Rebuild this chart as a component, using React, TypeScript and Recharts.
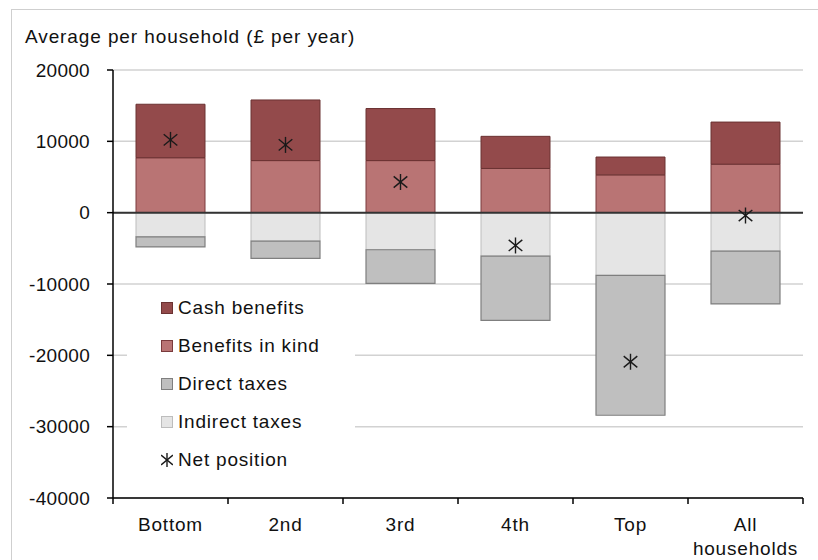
import React from 'react';
import { ComposedChart, Bar, Line, XAxis, YAxis, CartesianGrid, ReferenceLine, Legend } from 'recharts';

// Average per household, £ per year, by income quintile
const categories = ['Bottom', '2nd', '3rd', '4th', 'Top', 'All households'];
const cashBenefits = [7500, 8500, 7300, 4500, 2500, 5900];
const benefitsInKind = [7700, 7300, 7300, 6200, 5300, 6800];
const indirectTaxes = [-3400, -4000, -5200, -6100, -8800, -5400];
const directTaxes = [-1400, -2400, -4700, -9000, -19600, -7400];
const netPosition = [10200, 9500, 4300, -4600, -20900, -400];
const yTicks = [-40000, -30000, -20000, -10000, 0, 10000, 20000];

const data = categories.map((name, i) => ({
  name,
  kind: benefitsInKind[i],
  cash: cashBenefits[i],
  indirect: indirectTaxes[i],
  direct: directTaxes[i],
  net: netPosition[i],
}));

const W = 818;
const H = 560;
const MARGIN = { top: 70, right: 15, bottom: 12, left: 0 };
const Y_AXIS_W = 113;
const BAND = (W - MARGIN.left - MARGIN.right - Y_AXIS_W) / categories.length;

const FONT = '"Liberation Sans", Arial, sans-serif';
const TEXT = '#111';

const COLORS = {
  cash: { fill: '#934a4b', stroke: '#6b3232' },
  kind: { fill: '#b97474', stroke: '#7a3a3c' },
  direct: { fill: '#bfbfbf', stroke: '#7f7f7f' },
  indirect: { fill: '#e5e5e5', stroke: '#bdbdbd' },
};

const legendItems = [
  { label: 'Cash benefits', ...COLORS.cash },
  { label: 'Benefits in kind', ...COLORS.kind },
  { label: 'Direct taxes', ...COLORS.direct },
  { label: 'Indirect taxes', ...COLORS.indirect },
];

const Star = ({ cx, cy, size = 8 }: { cx: number; cy: number; size?: number }) => (
  <g stroke="#1a1a1a" strokeWidth={1.4}>
    <line x1={cx} y1={cy - size} x2={cx} y2={cy + size} />
    <line x1={cx - size * 0.85} y1={cy - size * 0.7} x2={cx + size * 0.85} y2={cy + size * 0.7} />
    <line x1={cx - size * 0.85} y1={cy + size * 0.7} x2={cx + size * 0.85} y2={cy - size * 0.7} />
  </g>
);

const renderStar = (props: any) => {
  if (props.cx == null || props.cy == null) return <g key={`star-${props.index}`} />;
  return (
    <g key={`star-${props.index}`}>
      <Star cx={props.cx} cy={props.cy} />
    </g>
  );
};

const XTick = ({ x, y, payload, index }: any) => {
  const words = String(payload.value).split(' ');
  const last = index === categories.length - 1;
  return (
    <g>
      <line x1={x - BAND / 2} x2={x - BAND / 2} y1={y} y2={y + 6} stroke="#000" strokeWidth={1.5} />
      {last && <line x1={x + BAND / 2} x2={x + BAND / 2} y1={y} y2={y + 6} stroke="#000" strokeWidth={1.5} />}
      <text x={x} y={y + 33} textAnchor="middle" fill={TEXT} fontSize={19} fontFamily={FONT} letterSpacing={0.8}>
        {words.map((w, i) => (
          <tspan key={w} x={x} dy={i === 0 ? 0 : 24}>
            {w}
          </tspan>
        ))}
      </text>
    </g>
  );
};

const LegendBox = () => (
  <div style={{ fontFamily: FONT, fontSize: 19, letterSpacing: 0.8, color: TEXT, paddingLeft: 34 }}>
    {legendItems.map((item) => (
      <div key={item.label} style={{ height: 38, display: 'flex', alignItems: 'center' }}>
        <span
          style={{
            display: 'inline-block',
            width: 10,
            height: 10,
            background: item.fill,
            border: `1px solid ${item.stroke}`,
            marginRight: 5,
          }}
        />
        <span>{item.label}</span>
      </div>
    ))}
    <div style={{ height: 38, display: 'flex', alignItems: 'center' }}>
      <svg width={12} height={16} style={{ marginRight: 5 }}>
        <Star cx={6} cy={8} size={7} />
      </svg>
      <span>Net position</span>
    </div>
  </div>
);

export default function App() {
  return (
    <div style={{ position: 'absolute', left: 0, top: 0, width: W, height: H, background: '#fff', overflow: 'hidden' }}>
      <div
        style={{
          position: 'absolute',
          left: 11,
          top: 9,
          width: W,
          height: H,
          border: '1px solid #cfcfcf',
        }}
      />
      <ComposedChart
        width={W}
        height={H}
        data={data}
        margin={MARGIN}
        stackOffset="sign"
        barCategoryGap="20%"
        style={{ position: 'absolute', left: 0, top: 0 }}
      >
        <text x={25} y={43} fill={TEXT} fontSize={19} fontFamily={FONT} letterSpacing={0.9}>
          Average per household (£ per year)
        </text>
        <CartesianGrid vertical={false} stroke="#d2d2d2" strokeWidth={1.5} />
        <XAxis
          dataKey="name"
          type="category"
          height={50}
          tickLine={false}
          tickSize={0}
          tickMargin={0}
          interval={0}
          axisLine={{ stroke: '#000', strokeWidth: 1.5 }}
          tick={<XTick />}
        />
        <YAxis
          type="number"
          width={Y_AXIS_W}
          domain={[-40000, 20000]}
          ticks={yTicks}
          interval={0}
          tickSize={6}
          tickMargin={17}
          axisLine={{ stroke: '#000', strokeWidth: 1.5 }}
          tickLine={{ stroke: '#000', strokeWidth: 1.5 }}
          tick={{ fill: TEXT, fontSize: 19, fontFamily: FONT, letterSpacing: 0.3 }}
        />
        <Bar dataKey="kind" name="Benefits in kind" stackId="a" fill={COLORS.kind.fill} stroke={COLORS.kind.stroke} strokeWidth={1} isAnimationActive={false} />
        <Bar dataKey="cash" name="Cash benefits" stackId="a" fill={COLORS.cash.fill} stroke={COLORS.cash.stroke} strokeWidth={1} isAnimationActive={false} />
        <Bar dataKey="indirect" name="Indirect taxes" stackId="a" fill={COLORS.indirect.fill} stroke={COLORS.indirect.stroke} strokeWidth={1} isAnimationActive={false} />
        <Bar dataKey="direct" name="Direct taxes" stackId="a" fill={COLORS.direct.fill} stroke={COLORS.direct.stroke} strokeWidth={1.2} isAnimationActive={false} />
        <ReferenceLine y={0} stroke="#333" strokeWidth={2} />
        <Line
          dataKey="net"
          name="Net position"
          stroke="none"
          dot={renderStar}
          activeDot={false}
          legendType="none"
          isAnimationActive={false}
        />
        <Legend
          layout="vertical"
          align="center"
          verticalAlign="middle"
          content={<LegendBox />}
          wrapperStyle={{ left: 127, top: 289, width: 228, height: 192, background: '#fff' }}
        />
      </ComposedChart>
    </div>
  );
}
